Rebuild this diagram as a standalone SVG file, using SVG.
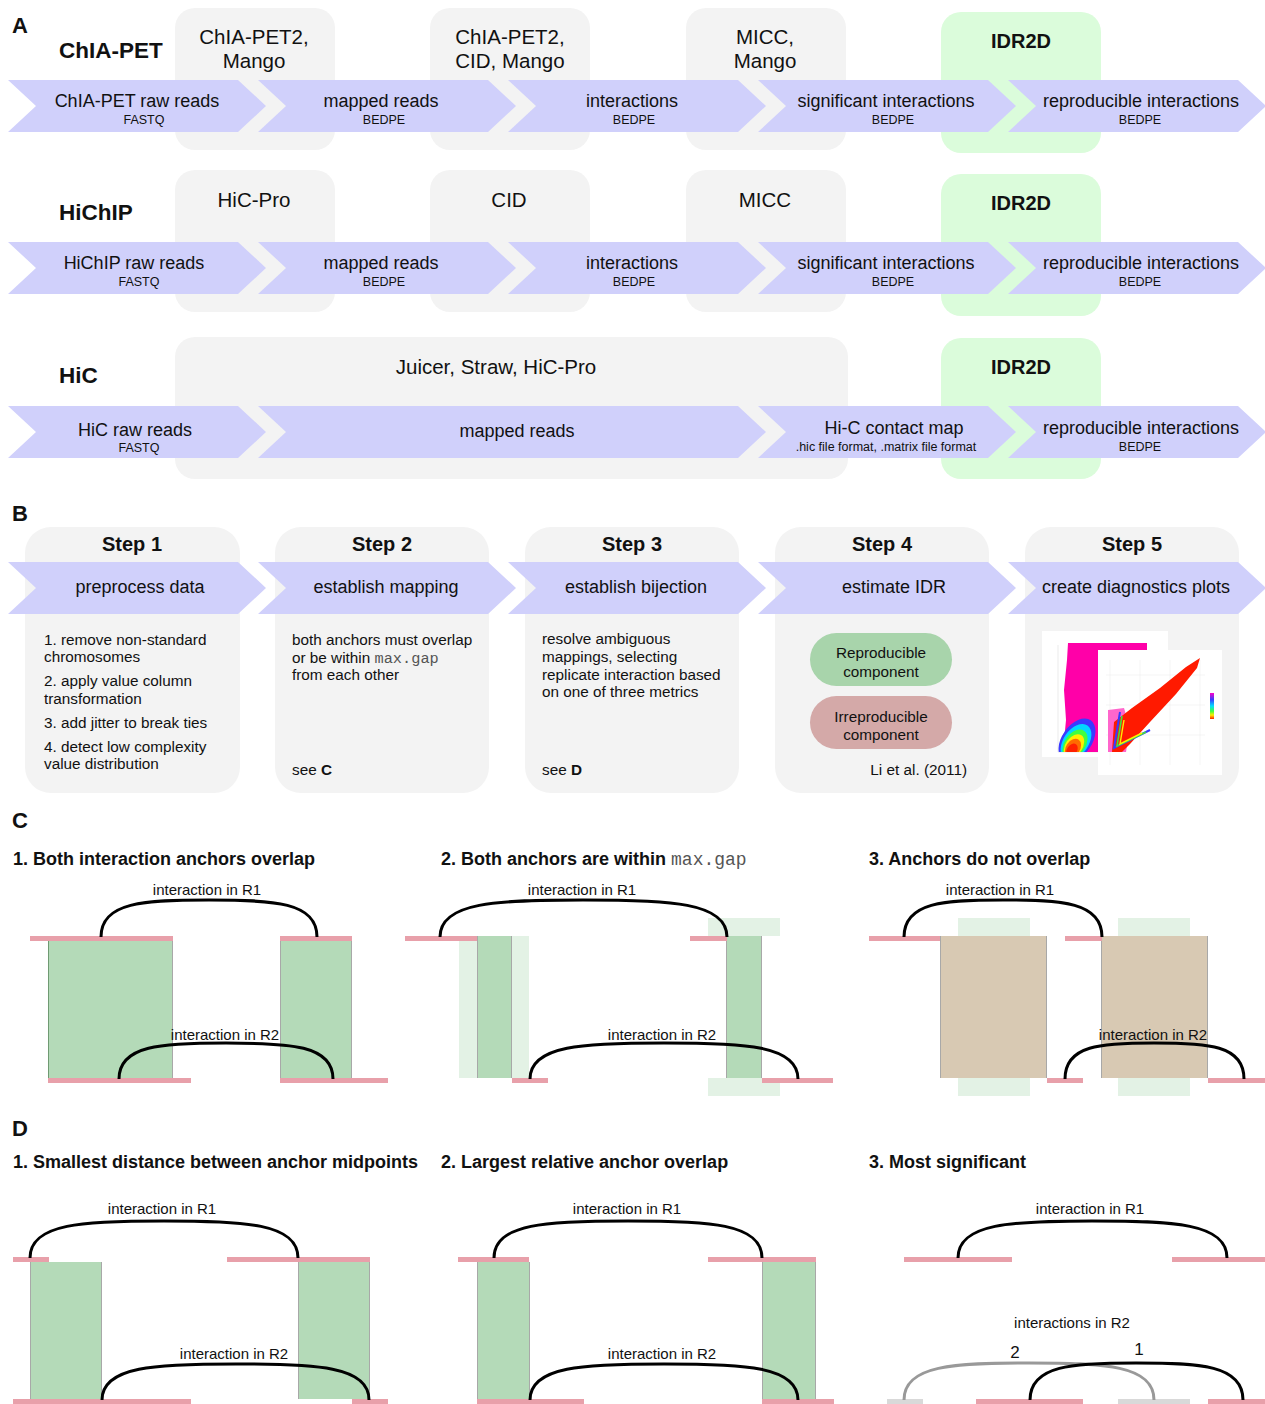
<svg xmlns="http://www.w3.org/2000/svg" width="1265" height="1404" viewBox="0 0 1265 1404">
<defs>
<style>
text{font-family:"Liberation Sans",Arial,sans-serif;fill:#111}
.pl{font-size:22px;font-weight:bold}
.row{font-size:22.5px;font-weight:bold}
.tool{font-size:20.5px;text-anchor:middle}
.idr{font-size:20px;font-weight:bold;text-anchor:middle}
.cm{font-size:18px;text-anchor:middle}
.cs{font-size:12.5px;text-anchor:middle}
.step{font-size:20px;font-weight:bold;text-anchor:middle}
.bt{font-size:15.3px}
.mid{text-anchor:middle}
.mono{font-family:"Liberation Mono","Courier New",monospace;fill:#555;font-weight:normal}
.ttl{font-size:18px;font-weight:bold}
.lab{font-size:15px;text-anchor:middle}
.num{font-size:17px;text-anchor:middle}
.box{fill:#f3f3f3}
.gbox{fill:#dbfcdb}
.chev{fill:#d0d0fb}
.pink{fill:#e8a0aa}
.grey{fill:#d9d9d9}
.grn{fill:#b4dab8}
.lgrn{fill:#e3f2e5}
.tan{fill:#d8c9b3}
.edge{stroke:#a8a8a8;stroke-width:1}
.arc{fill:none;stroke:#000;stroke-width:3}
.arcg{fill:none;stroke:#999;stroke-width:3}
</style>
<linearGradient id="leg" x1="0" y1="0" x2="0" y2="1">
<stop offset="0" stop-color="#ff00c8"/><stop offset="0.25" stop-color="#3a3aff"/><stop offset="0.5" stop-color="#00e0ff"/><stop offset="0.7" stop-color="#40ff40"/><stop offset="0.85" stop-color="#ffee00"/><stop offset="1" stop-color="#ff2000"/>
</linearGradient>
<clipPath id="backclip"><rect x="1042" y="631" width="126" height="121"/></clipPath>
</defs>
<rect width="1265" height="1404" fill="#fff"/>

<!-- Panel A -->
<text class="pl" x="12" y="33">A</text>
<g id="a-row1">
<rect class="box" x="175" y="8" width="160" height="142" rx="20"/>
<rect class="box" x="430" y="8" width="160" height="142" rx="20"/>
<rect class="box" x="686" y="8" width="160" height="142" rx="20"/>
<rect class="gbox" x="941" y="12" width="160" height="141" rx="20"/>
<text class="row" x="59" y="58">ChIA-PET</text>
<text class="tool" x="254" y="44">ChIA-PET2,</text><text class="tool" x="254" y="68">Mango</text>
<text class="tool" x="510" y="44">ChIA-PET2,</text><text class="tool" x="510" y="68">CID, Mango</text>
<text class="tool" x="765" y="44">MICC,</text><text class="tool" x="765" y="68">Mango</text>
<text class="idr" x="1021" y="48">IDR2D</text>
<g id="a1-c1"><polygon class="chev" points="8,80 238,80 266,106 238,132 8,132 36,106"/><text class="cm" x="137" y="107">ChIA-PET raw reads</text><text class="cs" x="144" y="124">FASTQ</text></g>
<g id="a1-c2"><polygon class="chev" points="258,80 488,80 516,106 488,132 258,132 286,106"/><text class="cm" x="381" y="107">mapped reads</text><text class="cs" x="384" y="124">BEDPE</text></g>
<g id="a1-c3"><polygon class="chev" points="508,80 738,80 766,106 738,132 508,132 536,106"/><text class="cm" x="632" y="107">interactions</text><text class="cs" x="634" y="124">BEDPE</text></g>
<g id="a1-c4"><polygon class="chev" points="758,80 988,80 1016,106 988,132 758,132 786,106"/><text class="cm" x="886" y="107">significant interactions</text><text class="cs" x="893" y="124">BEDPE</text></g>
<g id="a1-c5"><polygon class="chev" points="1008,80 1238,80 1266,106 1238,132 1008,132 1036,106"/><text class="cm" x="1141" y="107">reproducible interactions</text><text class="cs" x="1140" y="124">BEDPE</text></g>
</g>

<g id="a-row2">
<rect class="box" x="175" y="170" width="160" height="142" rx="20"/>
<rect class="box" x="430" y="170" width="160" height="142" rx="20"/>
<rect class="box" x="686" y="170" width="160" height="142" rx="20"/>
<rect class="gbox" x="941" y="174" width="160" height="142" rx="20"/>
<text class="row" x="59" y="220">HiChIP</text>
<text class="tool" x="254" y="207">HiC-Pro</text>
<text class="tool" x="509" y="207">CID</text>
<text class="tool" x="765" y="207">MICC</text>
<text class="idr" x="1021" y="210">IDR2D</text>
<g id="a2-c1"><polygon class="chev" points="8,242 238,242 266,268 238,294 8,294 36,268"/><text class="cm" x="134" y="269">HiChIP raw reads</text><text class="cs" x="139" y="286">FASTQ</text></g>
<g id="a2-c2"><polygon class="chev" points="258,242 488,242 516,268 488,294 258,294 286,268"/><text class="cm" x="381" y="269">mapped reads</text><text class="cs" x="384" y="286">BEDPE</text></g>
<g id="a2-c3"><polygon class="chev" points="508,242 738,242 766,268 738,294 508,294 536,268"/><text class="cm" x="632" y="269">interactions</text><text class="cs" x="634" y="286">BEDPE</text></g>
<g id="a2-c4"><polygon class="chev" points="758,242 988,242 1016,268 988,294 758,294 786,268"/><text class="cm" x="886" y="269">significant interactions</text><text class="cs" x="893" y="286">BEDPE</text></g>
<g id="a2-c5"><polygon class="chev" points="1008,242 1238,242 1266,268 1238,294 1008,294 1036,268"/><text class="cm" x="1141" y="269">reproducible interactions</text><text class="cs" x="1140" y="286">BEDPE</text></g>
</g>

<g id="a-row3">
<rect class="box" x="175" y="337" width="673" height="142" rx="20"/>
<rect class="gbox" x="941" y="338" width="160" height="141" rx="20"/>
<text class="row" x="59" y="383">HiC</text>
<text class="tool" x="496" y="374">Juicer, Straw, HiC-Pro</text>
<text class="idr" x="1021" y="374">IDR2D</text>
<g id="a3-c1"><polygon class="chev" points="8,406 238,406 266,432 238,458 8,458 36,432"/><text class="cm" x="135" y="436">HiC raw reads</text><text class="cs" x="139" y="452">FASTQ</text></g>
<g id="a3-c2"><polygon class="chev" points="258,406 738,406 766,432 738,458 258,458 286,432"/><text class="cm" x="517" y="437">mapped reads</text></g>
<g id="a3-c3"><polygon class="chev" points="758,406 988,406 1016,432 988,458 758,458 786,432"/><text class="cm" x="894" y="434">Hi-C contact map</text><text class="cs" x="886" y="451">.hic file format, .matrix file format</text></g>
<g id="a3-c4"><polygon class="chev" points="1008,406 1238,406 1266,432 1238,458 1008,458 1036,432"/><text class="cm" x="1141" y="434">reproducible interactions</text><text class="cs" x="1140" y="451">BEDPE</text></g>
</g>

<!-- Panel B -->
<text class="pl" x="12" y="521">B</text>
<g id="b-step1">
<rect class="box" x="25" y="527" width="215" height="266" rx="26"/>
<text class="step" x="132" y="551">Step 1</text>
<polygon class="chev" points="8,562 238,562 266,588 238,614 8,614 36,588"/>
<text class="cm" x="140" y="593">preprocess data</text>
<text class="bt" x="44" y="645">1. remove non-standard</text>
<text class="bt" x="44" y="662">chromosomes</text>
<text class="bt" x="44" y="686">2. apply value column</text>
<text class="bt" x="44" y="704">transformation</text>
<text class="bt" x="44" y="728">3. add jitter to break ties</text>
<text class="bt" x="44" y="752">4. detect low complexity</text>
<text class="bt" x="44" y="769">value distribution</text>
</g>
<g id="b-step2">
<rect class="box" x="275" y="527" width="214" height="266" rx="26"/>
<text class="step" x="382" y="551">Step 2</text>
<polygon class="chev" points="258,562 488,562 516,588 488,614 258,614 286,588"/>
<text class="cm" x="386" y="593">establish mapping</text>
<text class="bt" x="292" y="645">both anchors must overlap</text>
<text class="bt" x="292" y="663">or be within <tspan class="mono">max.gap</tspan></text>
<text class="bt" x="292" y="680">from each other</text>
<text class="bt" x="292" y="775">see <tspan font-weight="bold">C</tspan></text>
</g>
<g id="b-step3">
<rect class="box" x="525" y="527" width="214" height="266" rx="26"/>
<text class="step" x="632" y="551">Step 3</text>
<polygon class="chev" points="508,562 738,562 766,588 738,614 508,614 536,588"/>
<text class="cm" x="636" y="593">establish bijection</text>
<text class="bt" x="542" y="644">resolve ambiguous</text>
<text class="bt" x="542" y="662">mappings, selecting</text>
<text class="bt" x="542" y="680">replicate interaction based</text>
<text class="bt" x="542" y="697">on one of three metrics</text>
<text class="bt" x="542" y="775">see <tspan font-weight="bold">D</tspan></text>
</g>
<g id="b-step4">
<rect class="box" x="775" y="527" width="214" height="266" rx="26"/>
<text class="step" x="882" y="551">Step 4</text>
<polygon class="chev" points="758,562 988,562 1016,588 988,614 758,614 786,588"/>
<text class="cm" x="894" y="593">estimate IDR</text>
<rect x="810" y="633" width="142" height="53" rx="26.5" fill="#a8d4ab"/>
<text class="bt mid" x="881" y="658">Reproducible</text>
<text class="bt mid" x="881" y="677">component</text>
<rect x="810" y="696" width="142" height="53" rx="26.5" fill="#d4a9a8"/>
<text class="bt mid" x="881" y="722">Irreproducible</text>
<text class="bt mid" x="881" y="740">component</text>
<text class="bt" x="967" y="775" text-anchor="end">Li et al. (2011)</text>
</g>
<g id="b-step5">
<rect class="box" x="1025" y="527" width="214" height="266" rx="26"/>
<text class="step" x="1132" y="551">Step 5</text>
<polygon class="chev" points="1008,562 1238,562 1266,588 1238,614 1008,614 1036,588"/>
<text class="cm" x="1136" y="593">create diagnostics plots</text>
<g id="plot-back">
<rect x="1042" y="631" width="126" height="126" fill="#fff"/>
<line x1="1058" y1="645" x2="1058" y2="752" stroke="#ddd" stroke-width="0.6"/>
<line x1="1058" y1="752" x2="1147" y2="752" stroke="#ddd" stroke-width="0.6"/>
<polygon points="1068,643 1147,643 1147,652 1098,652 1098,752 1063,752 1066,720 1064,690 1067,660" fill="#ff00a8"/>
<g clip-path="url(#backclip)">
<ellipse cx="1077" cy="740" rx="15" ry="24" transform="rotate(35 1077 740)" fill="#3a3aff"/>
<ellipse cx="1076" cy="742" rx="12.5" ry="20" transform="rotate(35 1076 742)" fill="#00d8ff"/>
<ellipse cx="1075" cy="744" rx="10.5" ry="16" transform="rotate(35 1075 744)" fill="#40ff40"/>
<ellipse cx="1074" cy="746" rx="8.5" ry="13" transform="rotate(35 1074 746)" fill="#ffee00"/>
<ellipse cx="1073" cy="748" rx="7" ry="10" transform="rotate(35 1073 748)" fill="#ff6a00"/>
<ellipse cx="1072" cy="750" rx="5" ry="7" transform="rotate(35 1072 750)" fill="#ff2000"/>
</g>
</g>
<g id="plot-front">
<rect x="1098" y="650" width="124" height="125" fill="#fff"/>
<g stroke="#eee" stroke-width="0.6">
<line x1="1110" y1="660" x2="1110" y2="765"/><line x1="1140" y1="660" x2="1140" y2="765"/><line x1="1170" y1="660" x2="1170" y2="765"/><line x1="1200" y1="660" x2="1200" y2="765"/>
<line x1="1106" y1="675" x2="1205" y2="675"/><line x1="1106" y1="705" x2="1205" y2="705"/><line x1="1106" y1="735" x2="1205" y2="735"/>
</g>
<polygon points="1108,710 1124,708 1130,728 1126,752 1108,752" fill="#ff66cc"/>
<polygon points="1112,752 1114,722 1132,708 1160,688 1186,667 1200,658 1197,668 1176,694 1150,722 1130,744 1122,752" fill="#ff1a00"/>
<path d="M1120,712 L1114,748 L1150,730" fill="none" stroke="#3a3aff" stroke-width="2"/>
<path d="M1122,716 L1117,746 L1146,732" fill="none" stroke="#40e040" stroke-width="1.6"/>
<path d="M1124,720 L1120,744 L1142,733" fill="none" stroke="#ffee00" stroke-width="1.4"/>
<rect x="1210" y="693" width="4" height="26" fill="url(#leg)"/>
</g>
</g>

<!-- Panel C -->
<text class="pl" x="12" y="828">C</text>
<text class="ttl" x="13" y="865">1. Both interaction anchors overlap</text>
<text class="ttl" x="441" y="865">2. Both anchors are within <tspan class="mono">max.gap</tspan></text>
<text class="ttl" x="869" y="865">3. Anchors do not overlap</text>

<g id="c1">
<rect class="grn" x="48" y="941" width="125" height="137"/>
<rect class="grn" x="280" y="941" width="72" height="137"/>
<g class="edge"><line x1="48.5" y1="941" x2="48.5" y2="1078" stroke="#6f9a72"/><line x1="172.5" y1="941" x2="172.5" y2="1078"/><line x1="280.5" y1="941" x2="280.5" y2="1078"/><line x1="351.5" y1="941" x2="351.5" y2="1078"/></g>
<rect class="pink" x="30" y="936" width="143" height="5"/>
<rect class="pink" x="280" y="936" width="72" height="5"/>
<rect class="pink" x="48" y="1078" width="143" height="5"/>
<rect class="pink" x="280" y="1078" width="108" height="5"/>
<text class="lab" x="207" y="895">interaction in R1</text>
<text class="lab" x="225" y="1040">interaction in R2</text>
</g>

<g id="c2">
<rect class="lgrn" x="459" y="936" width="70" height="142"/>
<rect class="grn" x="477" y="936" width="35" height="142"/>
<rect class="lgrn" x="708" y="918" width="72" height="18"/>
<rect class="lgrn" x="708" y="1078" width="72" height="18"/>
<rect class="grn" x="726" y="936" width="36" height="142"/>
<g class="edge"><line x1="477.5" y1="936" x2="477.5" y2="1078"/><line x1="511.5" y1="936" x2="511.5" y2="1078"/><line x1="726.5" y1="936" x2="726.5" y2="1078"/><line x1="761.5" y1="936" x2="761.5" y2="1078"/></g>
<rect class="pink" x="405" y="936" width="72" height="5"/>
<rect class="pink" x="690" y="936" width="37" height="5"/>
<rect class="pink" x="512" y="1078" width="36" height="5"/>
<rect class="pink" x="762" y="1078" width="71" height="5"/>
<text class="lab" x="582" y="895">interaction in R1</text>
<text class="lab" x="662" y="1040">interaction in R2</text>
</g>

<g id="c3">
<rect class="lgrn" x="958" y="918" width="72" height="18"/>
<rect class="lgrn" x="1118" y="918" width="72" height="18"/>
<rect class="lgrn" x="958" y="1078" width="72" height="18"/>
<rect class="lgrn" x="1118" y="1078" width="72" height="18"/>
<rect class="tan" x="940" y="936" width="107" height="142"/>
<rect class="tan" x="1101" y="936" width="107" height="142"/>
<g class="edge"><line x1="940.5" y1="936" x2="940.5" y2="1078"/><line x1="1046.5" y1="936" x2="1046.5" y2="1078"/><line x1="1101.5" y1="936" x2="1101.5" y2="1078"/><line x1="1207.5" y1="936" x2="1207.5" y2="1078"/></g>
<rect class="pink" x="869" y="936" width="71" height="5"/>
<rect class="pink" x="1065" y="936" width="37" height="5"/>
<rect class="pink" x="1047" y="1078" width="36" height="5"/>
<rect class="pink" x="1208" y="1078" width="57" height="5"/>
<text class="lab" x="1000" y="895">interaction in R1</text>
<text class="lab" x="1153" y="1040">interaction in R2</text>
</g>

<!-- Panel D -->
<text class="pl" x="12" y="1136">D</text>
<text class="ttl" x="13" y="1168">1. Smallest distance between anchor midpoints</text>
<text class="ttl" x="441" y="1168">2. Largest relative anchor overlap</text>
<text class="ttl" x="869" y="1168">3. Most significant</text>

<g id="d1">
<rect class="grn" x="30" y="1262" width="72" height="137"/>
<rect class="grn" x="298" y="1262" width="72" height="137"/>
<g class="edge"><line x1="30.5" y1="1262" x2="30.5" y2="1399"/><line x1="101.5" y1="1262" x2="101.5" y2="1399"/><line x1="298.5" y1="1262" x2="298.5" y2="1399"/><line x1="369.5" y1="1262" x2="369.5" y2="1399"/></g>
<rect class="pink" x="13" y="1257" width="36" height="5"/>
<rect class="pink" x="227" y="1257" width="143" height="5"/>
<rect class="pink" x="13" y="1399" width="178" height="5"/>
<rect class="pink" x="352" y="1399" width="36" height="5"/>
<text class="lab" x="162" y="1214">interaction in R1</text>
<text class="lab" x="234" y="1359">interaction in R2</text>
</g>

<g id="d2">
<rect class="grn" x="477" y="1262" width="52" height="137"/>
<rect class="grn" x="762" y="1262" width="54" height="137"/>
<g class="edge"><line x1="477.5" y1="1262" x2="477.5" y2="1399"/><line x1="529.5" y1="1262" x2="529.5" y2="1399"/><line x1="762.5" y1="1262" x2="762.5" y2="1399"/><line x1="815.5" y1="1262" x2="815.5" y2="1399"/></g>
<rect class="pink" x="458" y="1257" width="71" height="5"/>
<rect class="pink" x="708" y="1257" width="108" height="5"/>
<rect class="pink" x="477" y="1399" width="107" height="5"/>
<rect class="pink" x="762" y="1399" width="72" height="5"/>
<text class="lab" x="627" y="1214">interaction in R1</text>
<text class="lab" x="662" y="1359">interaction in R2</text>
</g>

<g id="d3">
<rect class="pink" x="904" y="1257" width="108" height="5"/>
<rect class="pink" x="1172" y="1257" width="93" height="5"/>
<rect class="grey" x="887" y="1399" width="36" height="5"/>
<rect class="pink" x="976" y="1399" width="107" height="5"/>
<rect class="grey" x="1118" y="1399" width="72" height="5"/>
<rect class="pink" x="1208" y="1399" width="57" height="5"/>
<text class="lab" x="1090" y="1214">interaction in R1</text>
<text class="lab" x="1072" y="1328">interactions in R2</text>
<text class="num" x="1015" y="1358">2</text>
<text class="num" x="1139" y="1355">1</text>
</g>

<g id="connectors">
<path class="arc" d="M101,937 C101,902 144,900 209,900 C274,900 317,902 317,937"/>
<path class="arc" d="M119,1079 C119,1045 162,1043 226,1043 C290,1043 333,1045 333,1079"/>
<path class="arc" d="M440,937 C440,902 497,900 583,900 C669,900 727,902 727,937"/>
<path class="arc" d="M530,1079 C530,1045 584,1043 664,1043 C744,1043 798,1045 798,1079"/>
<path class="arc" d="M904,937 C904,902 944,900 1003,900 C1062,900 1102,902 1102,937"/>
<path class="arc" d="M1065,1079 C1065,1045 1101,1043 1154,1043 C1208,1043 1244,1045 1244,1079"/>
<path class="arc" d="M30,1258 C30,1223 84,1221 164,1221 C244,1221 298,1223 298,1258"/>
<path class="arc" d="M102,1400 C102,1366 156,1364 236,1364 C316,1364 369,1366 369,1400"/>
<path class="arc" d="M494,1258 C494,1223 548,1221 628,1221 C708,1221 762,1223 762,1258"/>
<path class="arc" d="M530,1400 C530,1366 584,1364 664,1364 C744,1364 798,1366 798,1400"/>
<path class="arc" d="M958,1258 C958,1223 1012,1221 1092,1221 C1173,1221 1227,1223 1227,1258"/>
<path class="arcg" d="M904,1400 C904,1365 954,1363 1029,1363 C1104,1363 1154,1365 1154,1400"/>
<path class="arc" d="M1030,1400 C1030,1365 1073,1363 1136,1363 C1200,1363 1243,1365 1243,1400"/>
</g>
</svg>
